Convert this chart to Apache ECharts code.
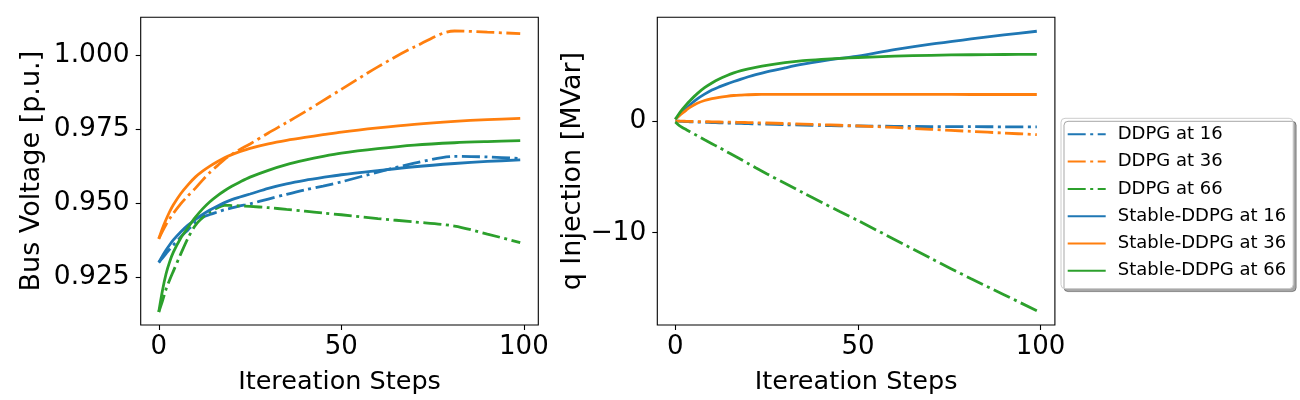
<!DOCTYPE html>
<html>
<head>
<meta charset="utf-8">
<script src="https://cdn.jsdelivr.net/npm/echarts@6/dist/echarts.min.js"></script>
<style>
  html, body { margin: 0; padding: 0; background: #fff; }
  #main { width: 1300px; height: 400px; }
</style>
</head>
<body>
<div id="main"></div>
<script>
// sampled iteration steps
var steps = [0, 1, 2, 3, 4, 6, 8, 10, 12, 14, 16, 18, 20, 22, 25, 30, 35, 40, 45, 50, 60, 70, 81, 90, 99];

// bus voltage [p.u.]
var vDdpg16 = [0.9300, 0.9315, 0.9330, 0.9345, 0.9359, 0.9386, 0.9410, 0.9434, 0.9452, 0.9462, 0.9470, 0.9478, 0.9484, 0.9490, 0.9498, 0.9514, 0.9530, 0.9545, 0.9558, 0.9572, 0.9605, 0.9635, 0.9658, 0.9656, 0.9651];
var vDdpg36 = [0.9380, 0.9405, 0.9428, 0.9448, 0.9466, 0.9498, 0.9525, 0.9550, 0.9578, 0.9604, 0.9626, 0.9648, 0.9665, 0.9680, 0.9700, 0.9737, 0.9772, 0.9808, 0.9846, 0.9884, 0.9960, 1.0027, 1.0081, 1.0077, 1.0072];
var vDdpg66 = [0.9133, 0.9170, 0.9210, 0.9242, 0.9271, 0.9328, 0.9382, 0.9425, 0.9452, 0.9471, 0.9484, 0.9493, 0.9492, 0.9491, 0.9489, 0.9485, 0.9479, 0.9473, 0.9467, 0.9461, 0.9448, 0.9437, 0.9423, 0.9396, 0.9367];
var vStable16 = [0.9300, 0.9322, 0.9342, 0.9360, 0.9376, 0.9403, 0.9426, 0.9445, 0.9462, 0.9477, 0.9490, 0.9502, 0.9512, 0.9520, 0.9531, 0.9550, 0.9565, 0.9577, 0.9587, 0.9596, 0.9610, 0.9623, 0.9634, 0.9641, 0.9646];
var vStable36 = [0.9380, 0.9415, 0.9445, 0.9472, 0.9495, 0.9532, 0.9562, 0.9588, 0.9608, 0.9625, 0.9640, 0.9653, 0.9664, 0.9673, 0.9685, 0.9700, 0.9712, 0.9722, 0.9731, 0.9740, 0.9754, 0.9766, 0.9776, 0.9782, 0.9786];
var vStable66 = [0.9133, 0.9205, 0.9262, 0.9303, 0.9335, 0.9382, 0.9418, 0.9452, 0.9481, 0.9505, 0.9525, 0.9542, 0.9557, 0.9570, 0.9588, 0.9611, 0.9630, 0.9645, 0.9658, 0.9669, 0.9684, 0.9696, 0.9704, 0.9708, 0.9711];

// q injection [MVar]
var qDdpg16 = [0.00, -0.02, -0.04, -0.05, -0.07, -0.10, -0.12, -0.14, -0.16, -0.18, -0.20, -0.22, -0.24, -0.26, -0.29, -0.33, -0.37, -0.40, -0.43, -0.45, -0.48, -0.50, -0.51, -0.52, -0.52];
var qDdpg36 = [0.00, -0.01, -0.02, -0.03, -0.04, -0.05, -0.06, -0.08, -0.09, -0.10, -0.11, -0.13, -0.14, -0.16, -0.18, -0.23, -0.28, -0.33, -0.38, -0.44, -0.58, -0.75, -0.93, -1.08, -1.22];
var qDdpg66 = [-0.10, -0.40, -0.60, -0.78, -0.96, -1.32, -1.68, -2.03, -2.38, -2.74, -3.09, -3.45, -3.82, -4.19, -4.72, -5.58, -6.43, -7.27, -8.10, -8.91, -10.60, -12.30, -14.12, -15.55, -16.98];
var qStable16 = [0.15, 0.50, 0.82, 1.13, 1.45, 1.98, 2.40, 2.77, 3.05, 3.30, 3.53, 3.75, 3.96, 4.15, 4.40, 4.75, 5.08, 5.36, 5.60, 5.80, 6.38, 6.88, 7.34, 7.70, 8.03];
var qStable36 = [0.15, 0.45, 0.72, 0.98, 1.22, 1.58, 1.83, 2.00, 2.12, 2.21, 2.28, 2.32, 2.35, 2.37, 2.38, 2.38, 2.38, 2.38, 2.38, 2.38, 2.38, 2.38, 2.37, 2.37, 2.37];
var qStable66 = [0.15, 0.65, 1.08, 1.47, 1.82, 2.45, 2.98, 3.40, 3.76, 4.05, 4.30, 4.50, 4.66, 4.80, 4.98, 5.22, 5.40, 5.52, 5.61, 5.68, 5.80, 5.88, 5.93, 5.95, 5.96];

var names = ['DDPG at 16', 'DDPG at 36', 'DDPG at 66', 'Stable-DDPG at 16', 'Stable-DDPG at 36', 'Stable-DDPG at 66'];
var colors = ['#1f77b4', '#ff7f0e', '#2ca02c', '#1f77b4', '#ff7f0e', '#2ca02c'];
var xTicks = [0, 50, 100];
var vTicks = [0.925, 0.950, 0.975, 1.000];
var qTicks = [-10, 0];

var FONT = 'DejaVu Sans';
var DASHDOT = [18, 4.5, 3, 4.5];

function pairs(ys) {
	var out = [];
	for (var i = 0; i < steps.length; i++) {
		out.push([steps[i], ys[i]]);
	}
	return out;
}

function line(idx, ys, gi) {
	return {
		name: names[idx],
		type: 'line',
		xAxisIndex: gi,
		yAxisIndex: gi,
		data: pairs(ys),
		showSymbol: false,
		symbol: 'none',
		smooth: 0.3,
		color: colors[idx],
		lineStyle: {
			color: colors[idx],
			width: 2.8,
			type: idx < 3 ? DASHDOT : 'solid'
		},
		z: idx < 3 ? 2 : 3
	};
}

function xAxis(gi) {
	return {
		type: 'value',
		gridIndex: gi,
		min: -4.95,
		max: 103.95,
		name: 'Itereation Steps',
		nameLocation: 'middle',
		nameGap: 44,
		nameTextStyle: { fontSize: 25.5, color: '#000', fontFamily: FONT },
		splitLine: { show: false },
		axisLine: { show: false, onZero: false },
		axisTick: { show: true, customValues: xTicks, length: 5, lineStyle: { color: '#000', width: 1.1 } },
		axisLabel: { customValues: xTicks, margin: 9, fontSize: 26, color: '#000', fontFamily: FONT }
	};
}

function yAxis(gi, min, max, ticks, label, gap, fmt) {
	return {
		type: 'value',
		gridIndex: gi,
		min: min,
		max: max,
		name: label,
		nameLocation: 'middle',
		nameGap: gap,
		nameTextStyle: { fontSize: 27, color: '#000', fontFamily: FONT },
		splitLine: { show: false },
		axisLine: { show: false, onZero: false },
		axisTick: { show: true, customValues: ticks, length: 5, lineStyle: { color: '#000', width: 1.1 } },
		axisLabel: { customValues: ticks, margin: 11, fontSize: 26.5, color: '#000', fontFamily: FONT, formatter: fmt }
	};
}

var myChart = echarts.init(document.getElementById('main'), null, { renderer: 'canvas' });

var option = {
	animation: false,
	backgroundColor: '#fff',
	textStyle: { fontFamily: FONT },
	grid: [
		{ left: 140.7, top: 17.3, width: 397.6, height: 307.7, show: true, borderColor: '#000', borderWidth: 1.1, backgroundColor: 'transparent' },
		{ left: 657.3, top: 17.3, width: 397.6, height: 307.7, show: true, borderColor: '#000', borderWidth: 1.1, backgroundColor: 'transparent' }
	],
	xAxis: [xAxis(0), xAxis(1)],
	yAxis: [
		yAxis(0, 0.90891, 1.01272, vTicks, 'Bus Voltage [p.u.]', 95, function (v) { return v.toFixed(3); }),
		yAxis(1, -18.26, 9.28, qTicks, 'q Injection [MVar]', 61, function (v) { return v < 0 ? '\u2212' + Math.abs(v) : String(v); })
	],
	legend: {
		orient: 'vertical',
		left: 1061,
		top: 118.3,
		data: names,
		itemWidth: 38,
		itemHeight: 14,
		itemGap: 9.3,
		padding: [7, 7, 8.8, 5.7],
		backgroundColor: '#fff',
		borderColor: '#cccccc',
		borderWidth: 1,
		borderRadius: 4,
		shadowColor: 'rgba(0,0,0,0.35)',
		shadowBlur: 0,
		shadowOffsetX: 3,
		shadowOffsetY: 3,
		itemStyle: { opacity: 0, borderWidth: 0 },
		textStyle: { fontSize: 18, color: '#000', fontFamily: FONT, padding: [0, 0, 0, 7] }
	},
	series: [
		line(0, vDdpg16, 0), line(1, vDdpg36, 0), line(2, vDdpg66, 0),
		line(3, vStable16, 0), line(4, vStable36, 0), line(5, vStable66, 0),
		line(0, qDdpg16, 1), line(1, qDdpg36, 1), line(2, qDdpg66, 1),
		line(3, qStable16, 1), line(4, qStable36, 1), line(5, qStable66, 1)
	]
};

myChart.setOption(option);
</script>
</body>
</html>
